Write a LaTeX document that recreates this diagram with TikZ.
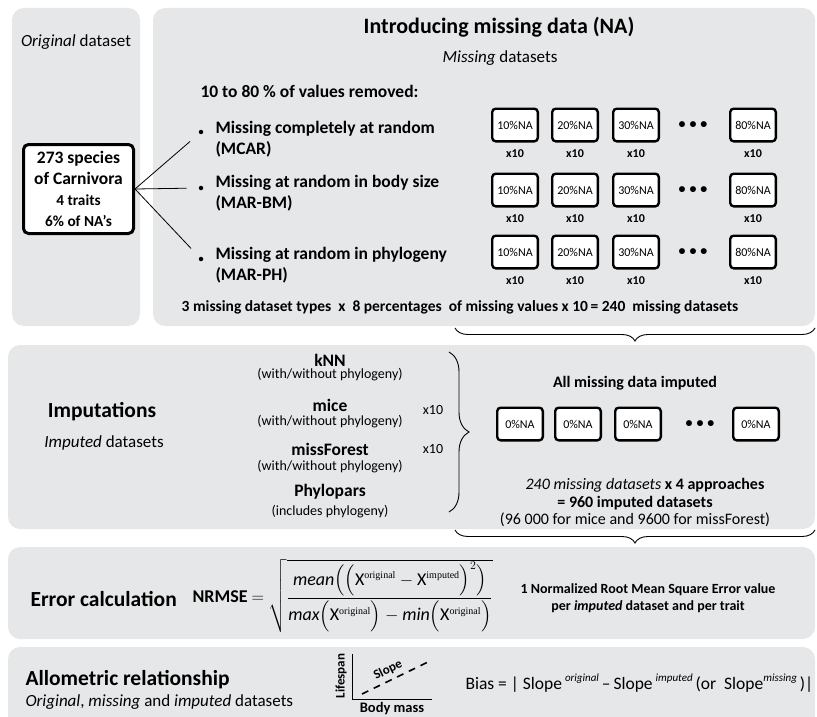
\documentclass[tikz,border=0pt]{standalone}
\usepackage{amsmath}
\usepackage{fontspec}
\setmainfont{Carlito}
\newfontfamily\timesfont{Liberation Serif}
\usetikzlibrary{positioning,decorations.pathreplacing}

\definecolor{panelgrey}{RGB}{230,231,232}
\newcommand{\fsz}[1]{\fontsize{#1}{\dimexpr#1pt*6/5\relax}\selectfont}
\newcommand{\sups}[1]{\raisebox{0.45em}{\fsz{11}\itshape #1}}
\newcommand{\supx}[1]{\text{\timesfont\fontsize{10}{10}\selectfont #1}}
\newcommand{\Xorig}{\text{X}^{\supx{original}}}
\newcommand{\Ximp}{\text{X}^{\supx{imputed}}}

\tikzset{
  panel/.style={fill=panelgrey,rounded corners=12pt},
  heading/.style={font=\bfseries\fsz{21.5}},
  subhead/.style={font=\fsz{17}},
  bodybold/.style={font=\bfseries\fsz{17.5}},
  origbox/.style={draw,line width=3pt,rounded corners=5pt,fill=white,minimum width=110pt,minimum height=89pt,inner sep=0pt,align=center,font=\bfseries\fsz{17.5}},
  nabox/.style={draw,line width=2.4pt,rounded corners=3.5pt,fill=white,minimum width=45.6pt,minimum height=32.6pt,inner sep=0pt,font=\fsz{12}},
  reps/.style={font=\bfseries\fsz{12},inner sep=0pt},
  bullet/.style={circle,fill,inner sep=0pt,minimum size=4.5pt},
  dotrow/.style={font=\bfseries\fsz{14},inner sep=0pt},
  link/.style={draw,line width=0.8pt,shorten >=12pt},
  brc/.style={decorate,decoration={brace,amplitude=13pt},line width=0.9pt},
  method/.style={font=\bfseries\fsz{17.5}},
  methodnote/.style={font=\fsz{14}},
}

\begin{document}
\begin{tikzpicture}[x=1pt,y=-1pt]
\useasboundingbox (0,0) rectangle (817,717);
\begin{scope}
  \clip (0,0) rectangle (817,717);
  \fill[panel] (12,8) rectangle (140,326);
  \fill[panel] (153,8) rectangle (815,326);
  \fill[panel] (8,345) rectangle (815,529);
  \fill[panel] (8,547) rectangle (815,639);
  \fill[panel] (8,647) rectangle (815,740);
\end{scope}

% original dataset
\node[subhead] (origlbl) at (76,42) {\textit{Original} dataset};
\node[origbox] (orig) at (78.5,189) {273 species\\of Carnivora\\\fontsize{15.3}{18}\selectfont 4 traits\\\fontsize{15.3}{18}\selectfont 6\% of NA’s};

% missing data
\node[font=\bfseries\fsz{22}] (title) at (499,27) {Introducing missing data (NA)};
\node[subhead] (misslbl) at (500,58) {\textit{Missing} datasets};
\node[bodybold,anchor=west] (removed) at (197,91) {10 to 80 \% of values removed:};
\foreach \y/\yb/\name/\txt/\abbr in {139/132/mcar/Missing completely at random/MCAR,
    193/188/marbm/Missing at random in body size/MAR-BM,
    265/259/marph/Missing at random in phylogeny/MAR-PH}{
  \node[bullet] (dot-\name) at (201,\yb) {};
  \node[bodybold,anchor=west,align=left] (\name) at (212,\y) {\txt\\(\abbr)};
  \draw[link] (orig.east) -- (dot-\name);
}
\foreach \r/\y in {1/125,2/190,3/252}{
  \foreach \c/\x in {10/515,20/575,30/636,80/753}{
    \node[nabox] (na-\r-\c) at (\x,\y) {\c\%NA};
    \node[reps,below=7pt of na-\r-\c] (rep-\r-\c) {x10};
  }
  \node[dotrow] (dots-\r) at (693,\y) {\textbullet\kern4pt\textbullet\kern4pt\textbullet};
}
\node[font=\bfseries\fsz{15.5}] (total) at (460,307) {3 missing dataset types\ \ x\ \ 8 percentages\ \ of missing values x 10\,= 240\ \ missing datasets};
\draw[brc] (815,328) -- (455,328);

% imputations
\node[heading] (imp) at (102,412) {Imputations};
\node[subhead] (implbl) at (104,443) {\textit{Imputed} datasets};
\node[method] (knn) at (330,360) {kNN};
\node[methodnote] (knn-note) at (330,375) {(with/without phylogeny)};
\node[method] (mice) at (330,405) {mice};
\node[methodnote] (mice-note) at (330,422) {(with/without phylogeny)};
\node[method] (mf) at (330,449) {missForest};
\node[methodnote] (mf-note) at (330,467) {(with/without phylogeny)};
\node[method] (pp) at (330,492) {Phylopars};
\node[methodnote] (pp-note) at (330,512) {(includes phylogeny)};
\node[methodnote] (rep-mice) at (433,410) {x10};
\node[methodnote] (rep-mf) at (433,449) {x10};
\draw[brc,decoration={brace,amplitude=20pt}] (449,352) -- (449,512);

\node[font=\bfseries\fsz{16}] (allimp) at (635,383) {All missing data imputed};
\foreach \x [count=\i] in {520,578,638,756}
  \node[nabox] (zero-\i) at (\x,424) {0\%NA};
\node[dotrow] (dots-imp) at (700,424) {\textbullet\kern4pt\textbullet\kern4pt\textbullet};
\node[font=\fsz{16}] (calc1) at (645,485) {\textit{240 missing datasets} \textbf{x 4 approaches}};
\node[font=\bfseries\fsz{16}] (calc2) at (635,503) {= 960 imputed datasets};
\node[font=\fsz{16}] (calc3) at (635,520) {(96 000 for mice and 9600 for missForest)};
\draw[brc] (815,530) -- (455,530);

% error calculation
\node[heading,anchor=west] (err) at (27,599) {Error calculation};
\node[anchor=west,font=\fsz{18}] (nrmse) at (189,596) {\textbf{NRMSE} $=\sqrt{\dfrac{\textit{mean}\Bigl(\Bigl(\Xorig-\Ximp\Bigr)^{2}\Bigr)}{\textit{max}\Bigl(\Xorig\Bigr)-\textit{min}\Bigl(\Xorig\Bigr)}}$};
\node[font=\bfseries\fsz{14},align=center] (errnote) at (648,598) {1 Normalized Root Mean Square Error value\\per \textit{imputed} dataset and per trait};

% allometric relationship
\node[heading,anchor=west] (allo) at (22,680) {Allometric relationship};
\node[subhead,anchor=west] (allolbl) at (22,702) {\textit{Original}, \textit{missing} and \textit{imputed} datasets};
\coordinate (corner) at (352,699);
\coordinate (ytop) at (352,654);
\coordinate (xend) at (432,699);
\draw[line width=1pt] (ytop) -- (corner) -- (xend);
\node[font=\bfseries\fsz{13},rotate=90] (lifespan) at (341,676) {Lifespan};
\node[font=\bfseries\fsz{14.5}] (bodymass) at (392,709) {Body mass};
\coordinate (s0) at (362,694);
\coordinate (s1) at (428,662);
\draw[dash pattern=on 7pt off 6pt,line width=1.6pt] (s0) -- (s1);
\node[font=\bfseries\fsz{13},rotate=26] (slope) at (388,670) {Slope};
\node[anchor=west,font=\fsz{17.5}] (bias) at (462,683) {Bias = |\ Slope\,\sups{original}\,–\,Slope\,\sups{imputed}\,(or\ \ Slope\sups{missing}\,)|};
\end{tikzpicture}
\end{document}
